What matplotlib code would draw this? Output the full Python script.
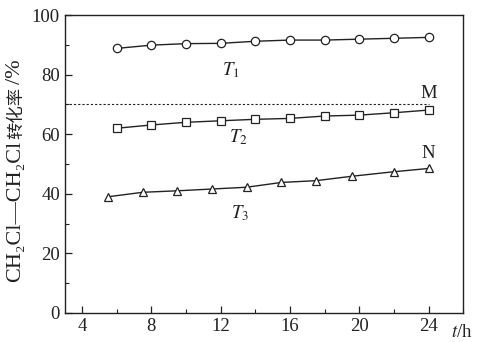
import matplotlib
matplotlib.use("Agg")
import matplotlib.pyplot as plt
from matplotlib.ticker import MultipleLocator
import matplotlib.transforms as mtransforms

plt.rcParams['font.family'] = ['Liberation Serif', 'DejaVu Serif', 'Noto Sans CJK SC']
plt.rcParams['mathtext.fontset'] = 'stix'

# Conversion of CH2Cl-CH2Cl vs. time at three temperatures
t1_hours = [6, 8, 10, 12, 14, 16, 18, 20, 22, 24]
t1_conv = [88.8, 89.9, 90.4, 90.5, 91.2, 91.6, 91.6, 91.9, 92.2, 92.5]

t2_hours = [6, 8, 10, 12, 14, 16, 18, 20, 22, 24]
t2_conv = [62.0, 63.1, 64.0, 64.5, 65.0, 65.3, 66.1, 66.4, 67.2, 68.1]

t3_hours = [5.5, 7.5, 9.5, 11.5, 13.5, 15.5, 17.5, 19.6, 22, 24]
t3_conv = [39.0, 40.5, 41.0, 41.6, 42.2, 43.8, 44.4, 45.9, 47.4, 48.5]

reference_level = 70

# y-axis title pieces: formula, Chinese words, unit
ylabel_parts = ["CH\u2082Cl\u2014CH\u2082Cl", "转化率", "/%"]

fig = plt.figure(figsize=(4.8, 3.42), dpi=100)
ax = fig.add_axes([0.135, 0.085, 0.83, 0.871])

mk = dict(color='#222222', lw=1.0, markerfacecolor='white',
          markeredgecolor='#222222', markeredgewidth=0.9)
ax.plot(t1_hours, t1_conv, marker='o', markersize=6, **mk)
ax.plot(t2_hours, t2_conv, marker='s', markersize=5.2, **mk)
ax.plot(t3_hours, t3_conv, marker='^', markersize=6, **mk)

ax.plot([3, t2_hours[-1]], [reference_level, reference_level], color='#222222',
        lw=0.8, linestyle=(0, (2, 1.8)))

ax.set_xlim(3, 26)
ax.set_ylim(0, 100)
ax.xaxis.set_major_locator(MultipleLocator(4))
ax.xaxis.set_minor_locator(MultipleLocator(2))
ax.yaxis.set_major_locator(MultipleLocator(20))
ax.yaxis.set_minor_locator(MultipleLocator(10))
ax.tick_params(which='both', direction='in', labelsize=13.5, colors='#222222')
ax.tick_params(which='major', length=5, width=0.9)
ax.tick_params(which='minor', length=3, width=0.8)
ax.tick_params(axis='x', pad=4)
for s in ax.spines.values():
    s.set_linewidth(1.0)
    s.set_color('#222222')

# vertical title built from stacked rotated pieces (pixel coordinates)
fig.canvas.draw()
renderer = fig.canvas.get_renderer()
H = fig.bbox.height
x_px = 16
y_px = 60
styles = [dict(fontsize=16, family=['Liberation Serif', 'DejaVu Serif']),
          dict(fontsize=12.5, family=['Noto Sans CJK SC']),
          dict(fontsize=16, family=['Liberation Serif', 'DejaVu Serif'])]
gaps = [2, 3, 0]
for part, st, gap in zip(ylabel_parts, styles, gaps):
    t = fig.text(x_px / fig.bbox.width, y_px / H, part, rotation=90,
                 ha='center', va='bottom', color='#222222', **st)
    bb = t.get_window_extent(renderer)
    y_px = bb.y1 + gap

trans = mtransforms.blended_transform_factory(ax.transData, ax.transAxes)
ax.text(25.9, -0.065, r"$t$/h", transform=trans, fontsize=13.5, ha='center',
        va='center', color='#222222')

lab = dict(fontsize=13.5, color='#222222', ha='center', va='center')
ax.text(12.6, 81.5, r"$T_1$", **lab)
ax.text(13.0, 59.0, r"$T_2$", **lab)
ax.text(13.1, 33.5, r"$T_3$", **lab)
ax.text(24.0, 73.5, "M", **lab)
ax.text(24.0, 53.5, "N", **lab)

fig.savefig("out.png", dpi=100)
